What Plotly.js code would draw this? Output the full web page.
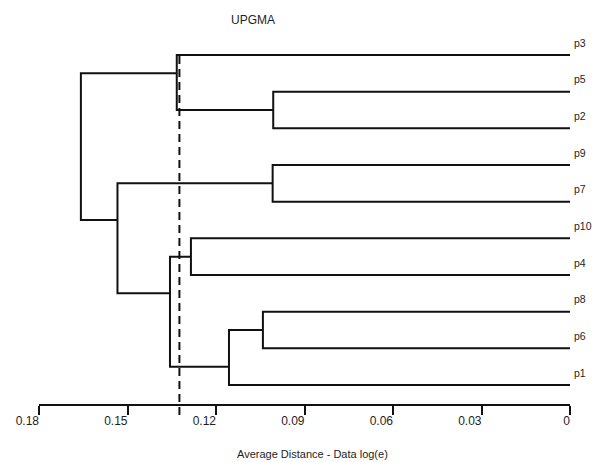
<!DOCTYPE html>
<html><head><meta charset="utf-8">
<script src="https://cdn.plot.ly/plotly-3.0.1.min.js"></script>
<style>html,body{margin:0;padding:0;background:#fff}#chart{width:600px;height:462px}</style>
</head><body><div id="chart"></div>
<script>
// Leaves, top to bottom
const leafLabels = ['p3','p5','p2','p9','p7','p10','p4','p8','p6','p1'];
// Merges (leaves are 0-9, merged clusters are numbered 10, 11, ... in order)
const mergeLeft   = [1, 3, 7, 12, 5, 0, 14, 11, 15];
const mergeRight  = [2, 4, 8, 9, 6, 10, 13, 16, 17];
const mergeHeight = [0.1006, 0.1008, 0.1041, 0.1156, 0.1285, 0.1333, 0.1356, 0.1534, 0.1658];
const cutoff = 0.1324;
const tickValues = [0.18, 0.15, 0.12, 0.09, 0.06, 0.03, 0];
const tickLabels = ['0.18', '0.15', '0.12', '0.09', '0.06', '0.03', '0'];

const nodeY = leafLabels.map((_, i) => i);
const nodeH = leafLabels.map(() => 0);
const nodeSize = leafLabels.map(() => 1);
const xs = [], ys = [];
mergeLeft.forEach((a, k) => {
  const b = mergeRight[k], h = mergeHeight[k];
  xs.push(nodeH[a], h, h, nodeH[b], null);
  ys.push(nodeY[a], nodeY[a], nodeY[b], nodeY[b], null);
  let y;
  if (nodeSize[a] === nodeSize[b]) y = (nodeY[a] + nodeY[b]) / 2;
  else {
    const s = nodeSize[a] < nodeSize[b] ? a : b, l = s === a ? b : a;
    y = nodeY[s] + (nodeY[l] - nodeY[s]) / 3;
  }
  nodeY.push(y); nodeH.push(h); nodeSize.push(nodeSize[a] + nodeSize[b]);
});

const yRange = [9.517, -0.409];
const font = {family: '"Liberation Sans", Arial, sans-serif', color: '#1e1e1e'};

const annotations = leafLabels.map((t, i) => ({
  x: 0, xref: 'x', y: i - 0.335, yref: 'y', text: t, showarrow: false,
  xanchor: 'left', yanchor: 'middle', xshift: 2,
  font: Object.assign({size: 10.5}, font)
}));
annotations.push({
  x: 0.515, xref: 'paper', y: -0.137, yref: 'paper', showarrow: false,
  text: 'Average Distance - Data log(e)', xanchor: 'center', yanchor: 'middle',
  font: Object.assign({size: 11}, font)
});

const data = [{
  type: 'scatter', mode: 'lines', x: xs, y: ys, hoverinfo: 'skip',
  line: {color: '#111', width: 2}, connectgaps: false
}];

const layout = {
  width: 600, height: 462,
  margin: {l: 39, r: 30, t: 40, b: 58},
  paper_bgcolor: '#fff', plot_bgcolor: '#fff',
  showlegend: false,
  title: {text: 'UPGMA', x: 0.4217, xanchor: 'center', y: 0.957, yanchor: 'middle',
          font: Object.assign({size: 12}, font)},
  xaxis: {
    range: [0.18, 0], tickvals: tickValues, ticktext: tickLabels,
    showline: true, linecolor: '#111', linewidth: 2,
    ticks: 'outside', ticklen: 9, tickwidth: 2, tickcolor: '#111',
    ticklabelposition: 'outside left', ticklabelstandoff: 5, ticklabelshift: -2,
    showgrid: false, zeroline: false, fixedrange: true,
    tickfont: Object.assign({size: 12}, font)
  },
  yaxis: {range: yRange, visible: false, showgrid: false, zeroline: false, fixedrange: true},
  shapes: [{
    type: 'line', xref: 'x', yref: 'paper', x0: cutoff, x1: cutoff,
    y0: -11 / 364, y1: (yRange[0] - 0) / (yRange[0] - yRange[1]),
    line: {color: '#111', width: 2, dash: '8px,5px'}
  }],
  annotations: annotations
};

Plotly.newPlot('chart', data, layout, {displayModeBar: false, staticPlot: true});
</script>
</body></html>
